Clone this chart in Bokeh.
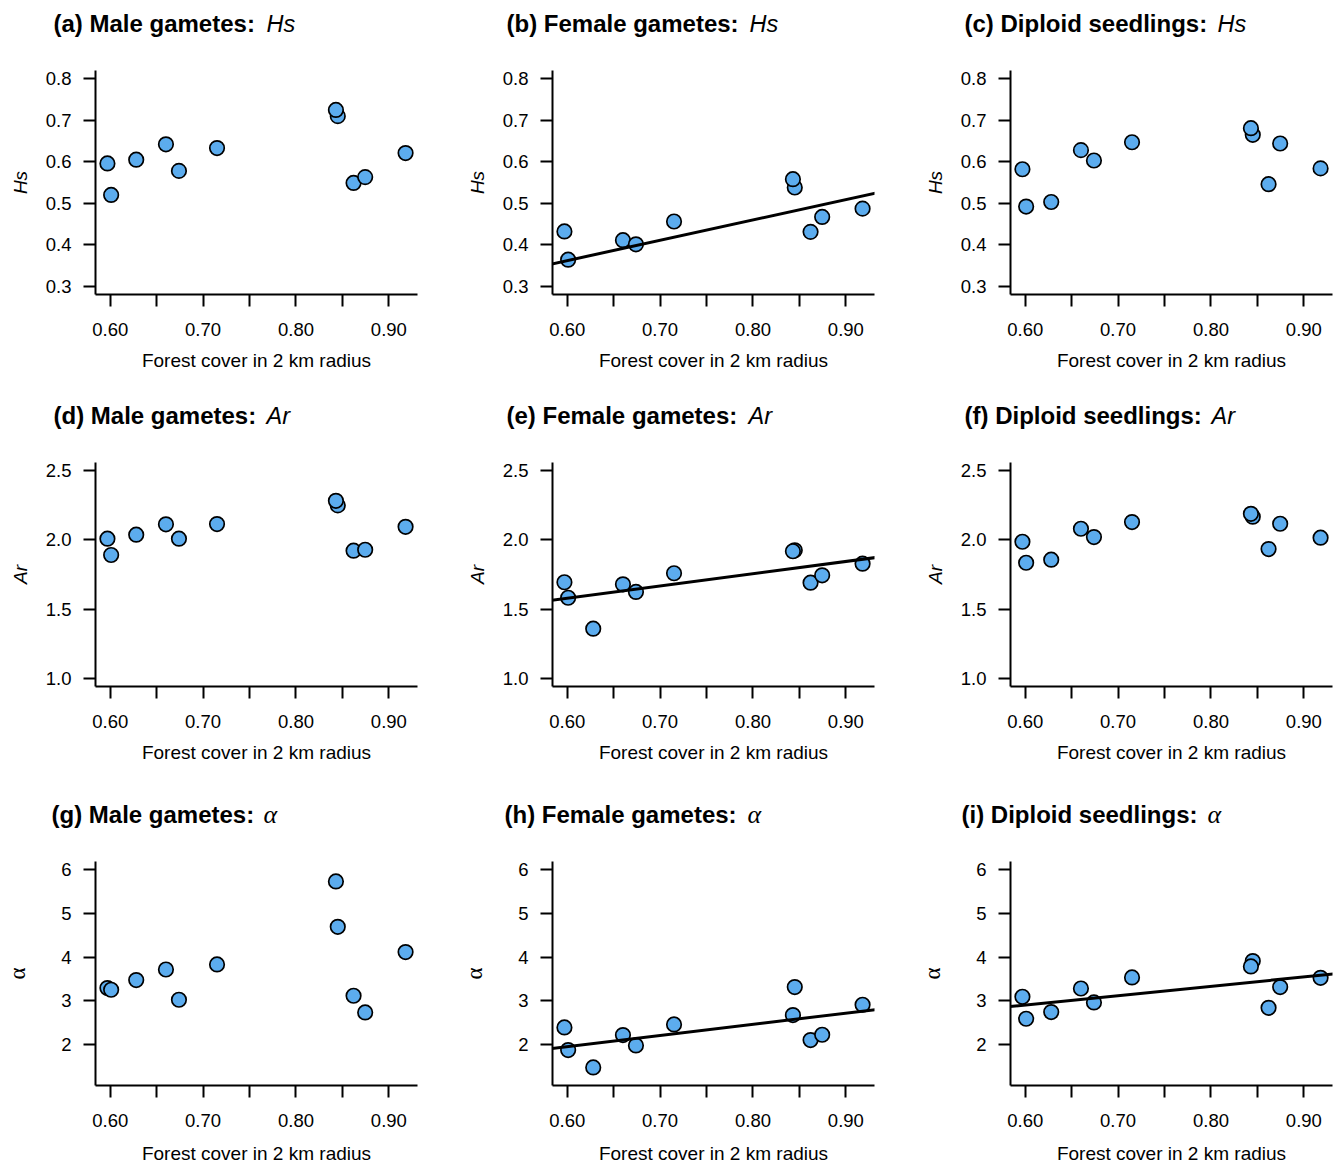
from bokeh.plotting import figure
from bokeh.layouts import column, row
from bokeh.models import Range1d, FixedTicker, Slope, PrintfTickFormatter, ColumnDataSource
from bokeh.core.properties import value
from bokeh.embed import file_html
from bokeh.resources import INLINE

# ---------------- data ----------------
forest_cover = [0.597, 0.601, 0.628, 0.660, 0.674, 0.715, 0.845, 0.843, 0.862, 0.8745, 0.918]

hs_male      = [0.596, 0.520, 0.605, 0.642, 0.578, 0.633, 0.710, 0.725, 0.549, 0.563, 0.621]
hs_female    = [0.432, 0.364, None,  0.411, 0.401, 0.456, 0.538, 0.558, 0.431, 0.467, 0.487]
hs_diploid   = [0.582, 0.492, 0.503, 0.628, 0.603, 0.647, 0.665, 0.681, 0.546, 0.644, 0.584]

ar_male      = [2.009, 1.891, 2.038, 2.113, 2.009, 2.115, 2.250, 2.283, 1.922, 1.929, 2.095]
ar_female    = [1.694, 1.582, 1.358, 1.679, 1.624, 1.759, 1.925, 1.918, 1.691, 1.744, 1.828]
ar_diploid   = [1.987, 1.835, 1.857, 2.081, 2.021, 2.129, 2.168, 2.189, 1.934, 2.117, 2.016]

alpha_male   = [3.291, 3.253, 3.475, 3.717, 3.024, 3.832, 4.695, 5.733, 3.115, 2.733, 4.116]
alpha_female = [2.389, 1.872, 1.473, 2.215, 1.977, 2.458, 3.314, 2.673, 2.100, 2.222, 2.909]
alpha_diploid= [3.092, 2.589, 2.742, 3.282, 2.962, 3.534, 3.910, 3.786, 2.840, 3.314, 3.527]

# regression lines (intercept, slope) where shown
fit_hs_female     = (0.068, 0.4895)
fit_ar_female     = (1.045, 0.888)
fit_alpha_female  = (0.413, 2.56)
fit_alpha_diploid = (1.620, 2.14)

x_ticks = [0.60, 0.70, 0.80, 0.90]
x_minor_ticks = [0.65, 0.75, 0.85]
x_title = "Forest cover in 2 km radius"

hs_ticks = [0.3, 0.4, 0.5, 0.6, 0.7, 0.8]
ar_ticks = [1.0, 1.5, 2.0, 2.5]
alpha_ticks = [2, 3, 4, 5, 6]

groups = ["Male gametes:", "Female gametes:", "Diploid seedlings:"]
letters = ["(a)", "(b)", "(c)", "(d)", "(e)", "(f)", "(g)", "(h)", "(i)"]

metric_rows = [
    dict(name="Hs", lim=(0.3, 0.8), ticks=hs_ticks, fmt="%.1f",
         series=[hs_male, hs_female, hs_diploid], fits=[None, fit_hs_female, None]),
    dict(name="Ar", lim=(1.0, 2.5), ticks=ar_ticks, fmt="%.1f",
         series=[ar_male, ar_female, ar_diploid], fits=[None, fit_ar_female, None]),
    dict(name="\u03b1", lim=(1.25, 6.0), ticks=alpha_ticks, fmt="%d",
         series=[alpha_male, alpha_female, alpha_diploid], fits=[None, fit_alpha_female, fit_alpha_diploid]),
]

# ---------------- styling / layout ----------------
FILL = "#5CACEE"
SANS = "Liberation Sans"
SERIF = "Liberation Serif"

def padded(lo, hi, frac=0.04):
    d = (hi - lo) * frac
    return lo - d, hi + d

x_lo, x_hi = padded(min(forest_cover), max(forest_cover))

PAGE_W = 1337
FRAME_W = 322
FRAME_H = 224
STRIP_H = 60
col_start = [0, 457, 915]
BORDER_L = 95
col_border_right = [40, 41, PAGE_W - 915 - BORDER_L - FRAME_W]
row_border_top = 10
row_border_bottom = [98, 105, 81]
row_xlabel_standoff = [11, 11, 13]
title_dx = [[-42, -46, -46], [-42, -46, -46], [-44, -48, -49]]
italic_dx = [[171, 197, 207], [171, 196, 201], [168, 195, 197]]


def title_strip(ri, m):
    t = figure(frame_width=PAGE_W, frame_height=STRIP_H,
               x_range=Range1d(0, PAGE_W), y_range=Range1d(0, STRIP_H),
               output_backend="svg", toolbar_location=None,
               x_axis_location=None, y_axis_location=None,
               min_border=0, outline_line_color=None,
               background_fill_color="white", border_fill_color="white")
    t.grid.visible = False
    yc = STRIP_H - 23
    is_alpha = m["name"] == "\u03b1"
    bx, bt, ix = [], [], []
    for ci in range(3):
        fl = col_start[ci] + BORDER_L
        bx.append(fl + title_dx[ri][ci])
        bt.append(f"{letters[ri*3+ci]} {groups[ci]}")
        ix.append(fl + italic_dx[ri][ci])
    t.text(x=bx, y=[yc] * 3, text=bt, text_font=value(SANS), text_font_style="bold",
           text_font_size="24px", text_baseline="middle", text_align="left", text_color="black")
    t.text(x=ix, y=[yc] * 3, text=[m["name"]] * 3,
           text_font=value(SERIF if is_alpha else SANS), text_font_style="italic",
           text_font_size="26px" if is_alpha else "23.5px",
           text_baseline="middle", text_align="left", text_color="black")
    return t


blocks = []
for ri, m in enumerate(metric_rows):
    figs = []
    for ci in range(3):
        ys = m["series"][ci]
        xs = [x for x, y in zip(forest_cover, ys) if y is not None]
        yv = [y for y in ys if y is not None]
        y_lo, y_hi = padded(*m["lim"])
        p = figure(frame_width=FRAME_W, frame_height=FRAME_H,
                   x_range=Range1d(x_lo, x_hi), y_range=Range1d(y_lo, y_hi),
                   output_backend="svg", toolbar_location=None,
                   min_border_left=BORDER_L, min_border_right=col_border_right[ci],
                   min_border_top=row_border_top, min_border_bottom=row_border_bottom[ri],
                   background_fill_color="white", border_fill_color="white",
                   outline_line_color=None)
        p.grid.visible = False

        xa = p.xaxis[0]
        xa.ticker = FixedTicker(ticks=x_ticks, minor_ticks=x_minor_ticks)
        xa.formatter = PrintfTickFormatter(format="%.2f")
        xa.axis_label = x_title
        xa.axis_label_standoff = row_xlabel_standoff[ri]
        xa.major_label_standoff = 16
        ya = p.yaxis[0]
        ya.ticker = FixedTicker(ticks=m["ticks"])
        ya.formatter = PrintfTickFormatter(format=m["fmt"])
        ya.axis_label = m["name"]
        ya.major_label_standoff = 12
        ya.minor_tick_line_color = None
        if m["name"] == "\u03b1":
            ya.axis_label_text_font = SERIF
            ya.axis_label_text_font_style = "normal"
            ya.axis_label_text_font_size = "23px"
            ya.axis_label_standoff = 28
        else:
            ya.axis_label_text_font = SANS
            ya.axis_label_text_font_style = "italic"
            ya.axis_label_text_font_size = "19px"
            ya.axis_label_standoff = 12
        for ax in (xa, ya):
            ax.axis_line_width = 2
            ax.axis_line_color = "black"
            ax.major_tick_line_width = 2
            ax.major_tick_line_color = "black"
            ax.major_tick_out = 12
            ax.major_tick_in = 0
            ax.minor_tick_out = 12
            ax.minor_tick_in = 0
            ax.minor_tick_line_width = 2
            ax.major_label_text_font = SANS
            ax.major_label_text_font_size = "18.5px"
            ax.major_label_text_color = "black"
            ax.axis_label_text_color = "black"
        xa.minor_tick_line_color = "black"
        xa.axis_label_text_font = SANS
        xa.axis_label_text_font_size = "19px"
        xa.axis_label_text_font_style = "normal"

        fit = m["fits"][ci]
        if fit is not None:
            p.add_layout(Slope(gradient=fit[1], y_intercept=fit[0],
                               line_color="black", line_width=3))

        src = ColumnDataSource(dict(x=xs, y=yv))
        p.scatter("x", "y", source=src, size=14.5, fill_color=FILL,
                  line_color="black", line_width=1.7)
        figs.append(p)
    blocks.append(title_strip(ri, m))
    blocks.append(row(*figs, spacing=0))

layout = column(*blocks, spacing=0)
open("out.html", "w").write(file_html(layout, INLINE))
